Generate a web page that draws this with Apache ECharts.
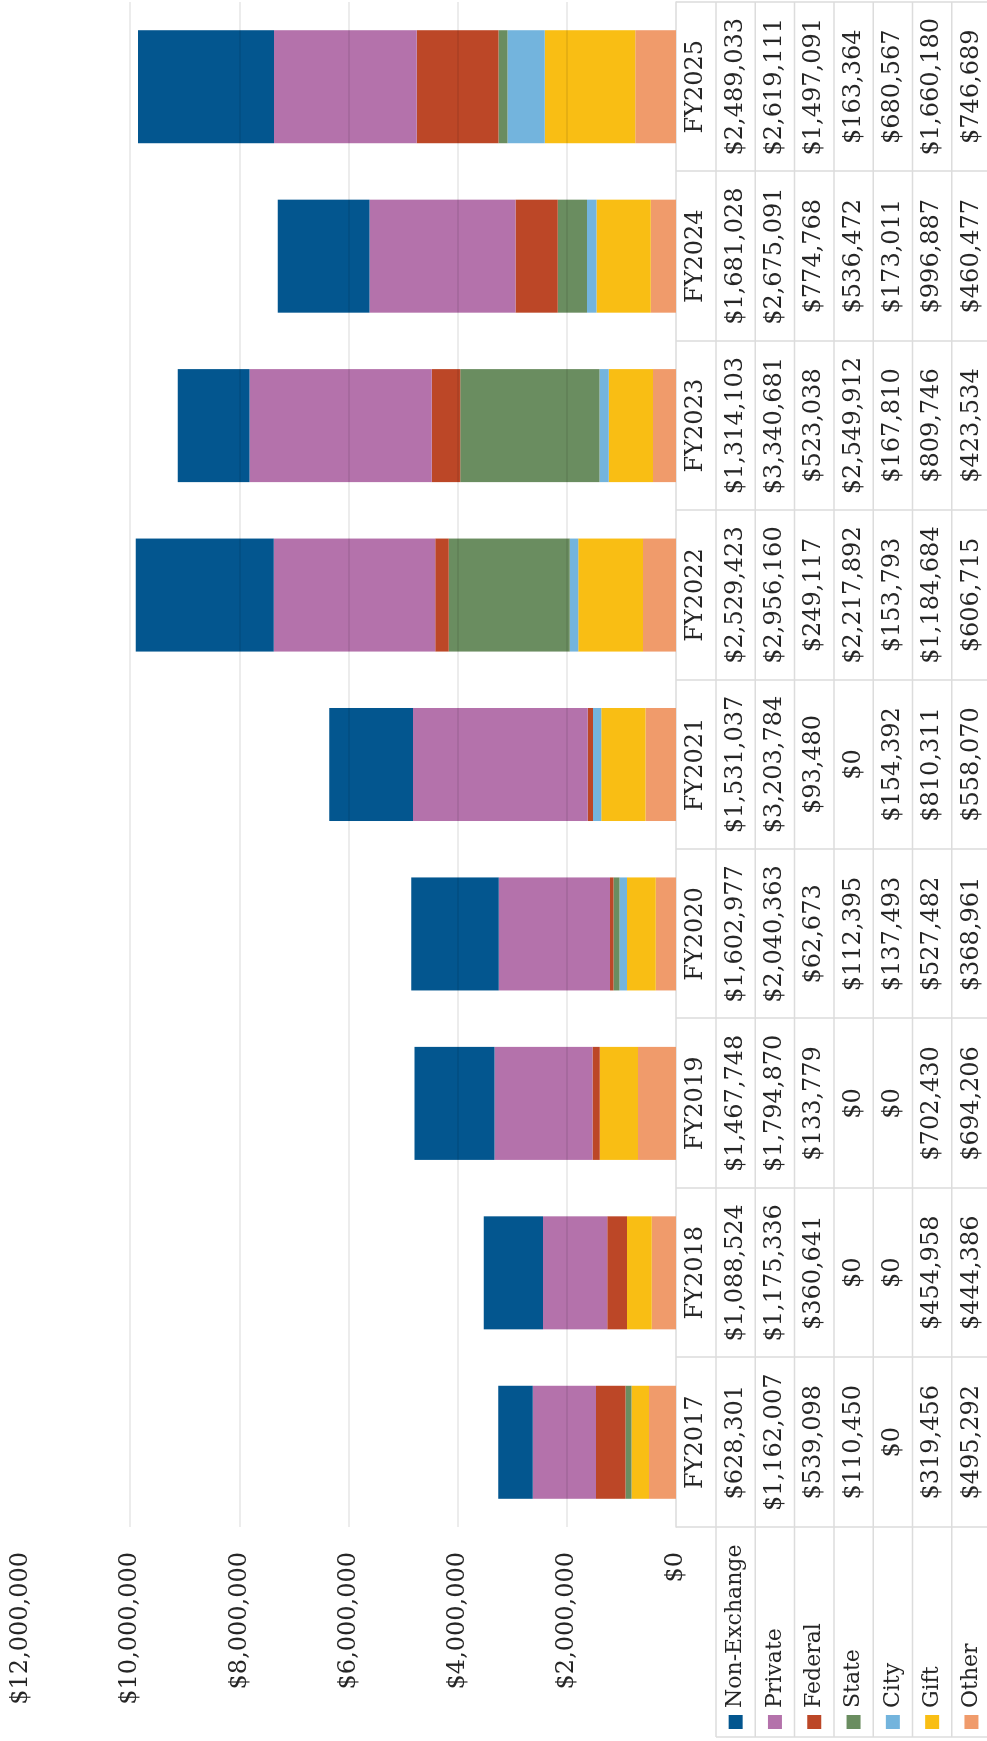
<!DOCTYPE html>
<html>
<head>
<meta charset="utf-8">
<script src="https://cdn.jsdelivr.net/npm/echarts@6/dist/echarts.min.js"></script>
<style>
  html, body { margin: 0; padding: 0; background: #ffffff; overflow: hidden; }
  body { width: 987px; height: 1741px; position: relative; }
  /* the chart is laid out landscape and turned a quarter turn counter-clockwise */
  #wrap {
    position: absolute; left: 0; top: 0;
    width: 1741px; height: 987px;
    transform-origin: 0 0;
    transform: translate(0, 1741px) rotate(-90deg);
  }
  #chart { width: 1741px; height: 987px; }
</style>
</head>
<body>
<div id="wrap"><div id="chart"></div></div>
<script>
// Revenue by source and fiscal year
const categories = ['FY2017', 'FY2018', 'FY2019', 'FY2020', 'FY2021', 'FY2022', 'FY2023', 'FY2024', 'FY2025'];
const nonExchange = [628301, 1088524, 1467748, 1602977, 1531037, 2529423, 1314103, 1681028, 2489033];
const privateFunds = [1162007, 1175336, 1794870, 2040363, 3203784, 2956160, 3340681, 2675091, 2619111];
const federal = [539098, 360641, 133779, 62673, 93480, 249117, 523038, 774768, 1497091];
const stateFunds = [110450, 0, 0, 112395, 0, 2217892, 2549912, 536472, 163364];
const city = [0, 0, 0, 137493, 154392, 153793, 167810, 173011, 680567];
const gift = [319456, 454958, 702430, 527482, 810311, 1184684, 809746, 996887, 1660180];
const other = [495292, 444386, 694206, 368961, 558070, 606715, 423534, 460477, 746689];

const sourceNames = ['Non-Exchange', 'Private', 'Federal', 'State', 'City', 'Gift', 'Other'];
const sourceValues = [nonExchange, privateFunds, federal, stateFunds, city, gift, other];
const sourceColors = ['#03568f', '#b472ab', '#bc4727', '#6a8d60', '#73b4dd', '#f9be14', '#f09b6b'];

const axisMin = 0;
const axisMax = 12000000;
const axisStep = 2000000;

// layout of the plot and the table under it
const W = 1741, H = 987;
const GRID = { left: 214, right: 2, top: 21, bottom: 311 };
const TABLE_TOP = H - GRID.bottom;      // header row starts at the category axis
const HEADER_H = 40;
const ROW_H = 39.3;
const LEGEND_LEFT = 4;
const FONT = '"DejaVu Serif", "Liberation Serif", serif';
const TEXT = '#262626';
const RULE = '#dcdcdc';

const money = v => '$' + v.toLocaleString('en-US');

const chart = echarts.init(document.getElementById('chart'), null, { renderer: 'canvas' });

// stacked from the axis outward: Other first, Non-Exchange last
const series = [];
for (let i = sourceNames.length - 1; i >= 0; i--) {
  series.push({
    name: sourceNames[i],
    type: 'bar',
    stack: 'total',
    barCategoryGap: '33.3%',
    itemStyle: { color: sourceColors[i] },
    emphasis: { disabled: true },
    data: sourceValues[i].map(v => (v === 0 ? null : v))
  });
}

chart.setOption({
  animation: false,
  backgroundColor: '#ffffff',
  grid: { left: GRID.left, right: GRID.right, top: GRID.top, bottom: GRID.bottom, containLabel: false },
  xAxis: {
    type: 'category',
    data: categories,
    axisLine: { show: true, lineStyle: { color: RULE, width: 1.5 } },
    axisTick: { show: true, alignWithLabel: false, interval: 0, length: H - TABLE_TOP, lineStyle: { color: RULE, width: 1.5 } },
    axisLabel: { interval: 0, margin: 20, verticalAlign: 'middle', fontFamily: FONT, fontSize: 24, color: TEXT }
  },
  yAxis: {
    type: 'value',
    min: axisMin,
    max: axisMax,
    interval: axisStep,
    z: 5,
    axisLine: { show: false },
    axisTick: { show: false },
    axisLabel: { margin: 25, fontFamily: FONT, fontSize: 24, color: TEXT, formatter: v => money(v) },
    splitLine: {
      show: true,
      showMinLine: false,
      showMaxLine: false,
      lineStyle: { color: 'rgba(0,0,0,0.10)', width: 1.5 }
    }
  },
  series: series
});

// data table under the columns, aligned to the category axis
const graphics = [];
const p0 = chart.convertToPixel({ xAxisIndex: 0 }, 0);
const p1 = chart.convertToPixel({ xAxisIndex: 0 }, 1);
const band = p1 - p0;
const gridRight = W - GRID.right;
const firstRowTop = TABLE_TOP + HEADER_H;

for (let r = 0; r <= sourceNames.length; r++) {
  const y = firstRowTop + r * ROW_H;
  graphics.push({ type: 'line', silent: true, shape: { x1: LEGEND_LEFT, y1: y, x2: gridRight, y2: y }, style: { stroke: RULE, lineWidth: 1.5 } });
}
graphics.push({ type: 'line', silent: true, shape: { x1: LEGEND_LEFT, y1: firstRowTop, x2: LEGEND_LEFT, y2: H }, style: { stroke: RULE, lineWidth: 1.5 } });

sourceNames.forEach((name, r) => {
  const cy = firstRowTop + (r + 0.5) * ROW_H;
  graphics.push({ type: 'rect', silent: true, shape: { x: 12, y: cy - 7, width: 14, height: 14 }, style: { fill: sourceColors[r] } });
  graphics.push({ type: 'text', silent: true, x: 33, y: cy, style: { text: name, fill: TEXT, fontFamily: FONT, fontSize: 22, align: 'left', verticalAlign: 'middle' } });
  categories.forEach((c, k) => {
    const cx = chart.convertToPixel({ xAxisIndex: 0 }, k);
    graphics.push({ type: 'text', silent: true, x: cx, y: cy, style: { text: money(sourceValues[r][k]), fill: TEXT, fontFamily: FONT, fontSize: 24, align: 'center', verticalAlign: 'middle' } });
  });
});

chart.setOption({ graphic: graphics });
</script>
</body>
</html>
